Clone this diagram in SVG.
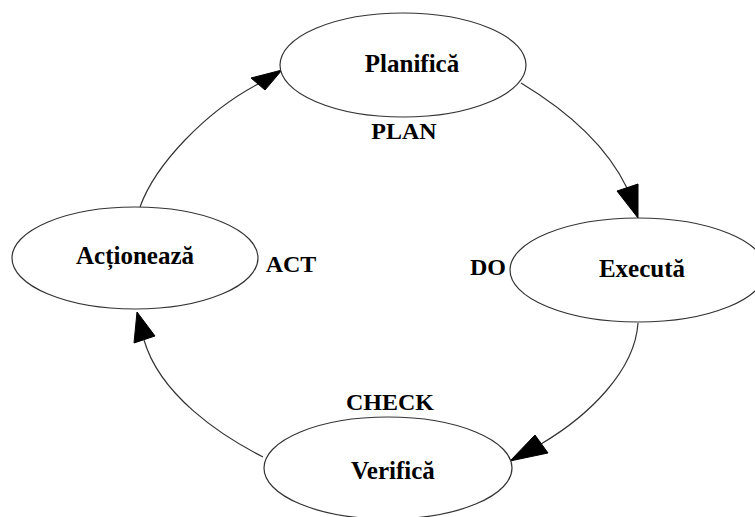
<svg xmlns="http://www.w3.org/2000/svg" width="755" height="517" viewBox="0 0 755 517">
<style>
.node ellipse{fill:#fff;stroke:#333;stroke-width:1.2}
text{font-family:"Liberation Serif","Times New Roman",serif;font-weight:bold;fill:#000;text-anchor:middle}
.nt{font-size:25px}
.lb{font-size:24px}
.conn path{fill:none;stroke:#333;stroke-width:1.2}
.conn polygon{fill:#000;stroke:#000;stroke-width:1}
</style>
<rect width="755" height="517" fill="#fff"/>
<g class="conn" id="connectors">
<path d="M521,83 Q599,130 627,188"/>
<polygon points="617,191 638,184 638,218"/>
<path d="M638,323 C635,370 590,415 541,444"/>
<polygon points="535,435 548,453 510,461"/>
<path d="M263,457 C220,435 160,395 144,340"/>
<polygon points="134,343 155,336 137,312"/>
<path d="M140,207 C155,165 205,112 258,84"/>
<polygon points="251,78 265,90 282,70"/>
</g>
<g class="node" id="planifica">
<ellipse cx="403" cy="65" rx="123" ry="52"/>
<text class="nt" x="412" y="72">Planifică</text>
</g>
<g class="node" id="executa">
<ellipse cx="638" cy="270" rx="128" ry="52"/>
<text class="nt" x="642" y="277">Execută</text>
</g>
<g class="node" id="verifica">
<ellipse cx="388" cy="468" rx="124" ry="51"/>
<text class="nt" x="393" y="479">Verifică</text>
</g>
<g class="node" id="actioneaza">
<ellipse cx="135" cy="258" rx="123" ry="51"/>
<text class="nt" x="135" y="264">Acționează</text>
</g>
<g id="labels">
<text class="lb" x="404" y="139">PLAN</text>
<text class="lb" x="488" y="275">DO</text>
<text class="lb" x="291" y="272">ACT</text>
<text class="lb" x="390" y="410">CHECK</text>
</g>
</svg>
